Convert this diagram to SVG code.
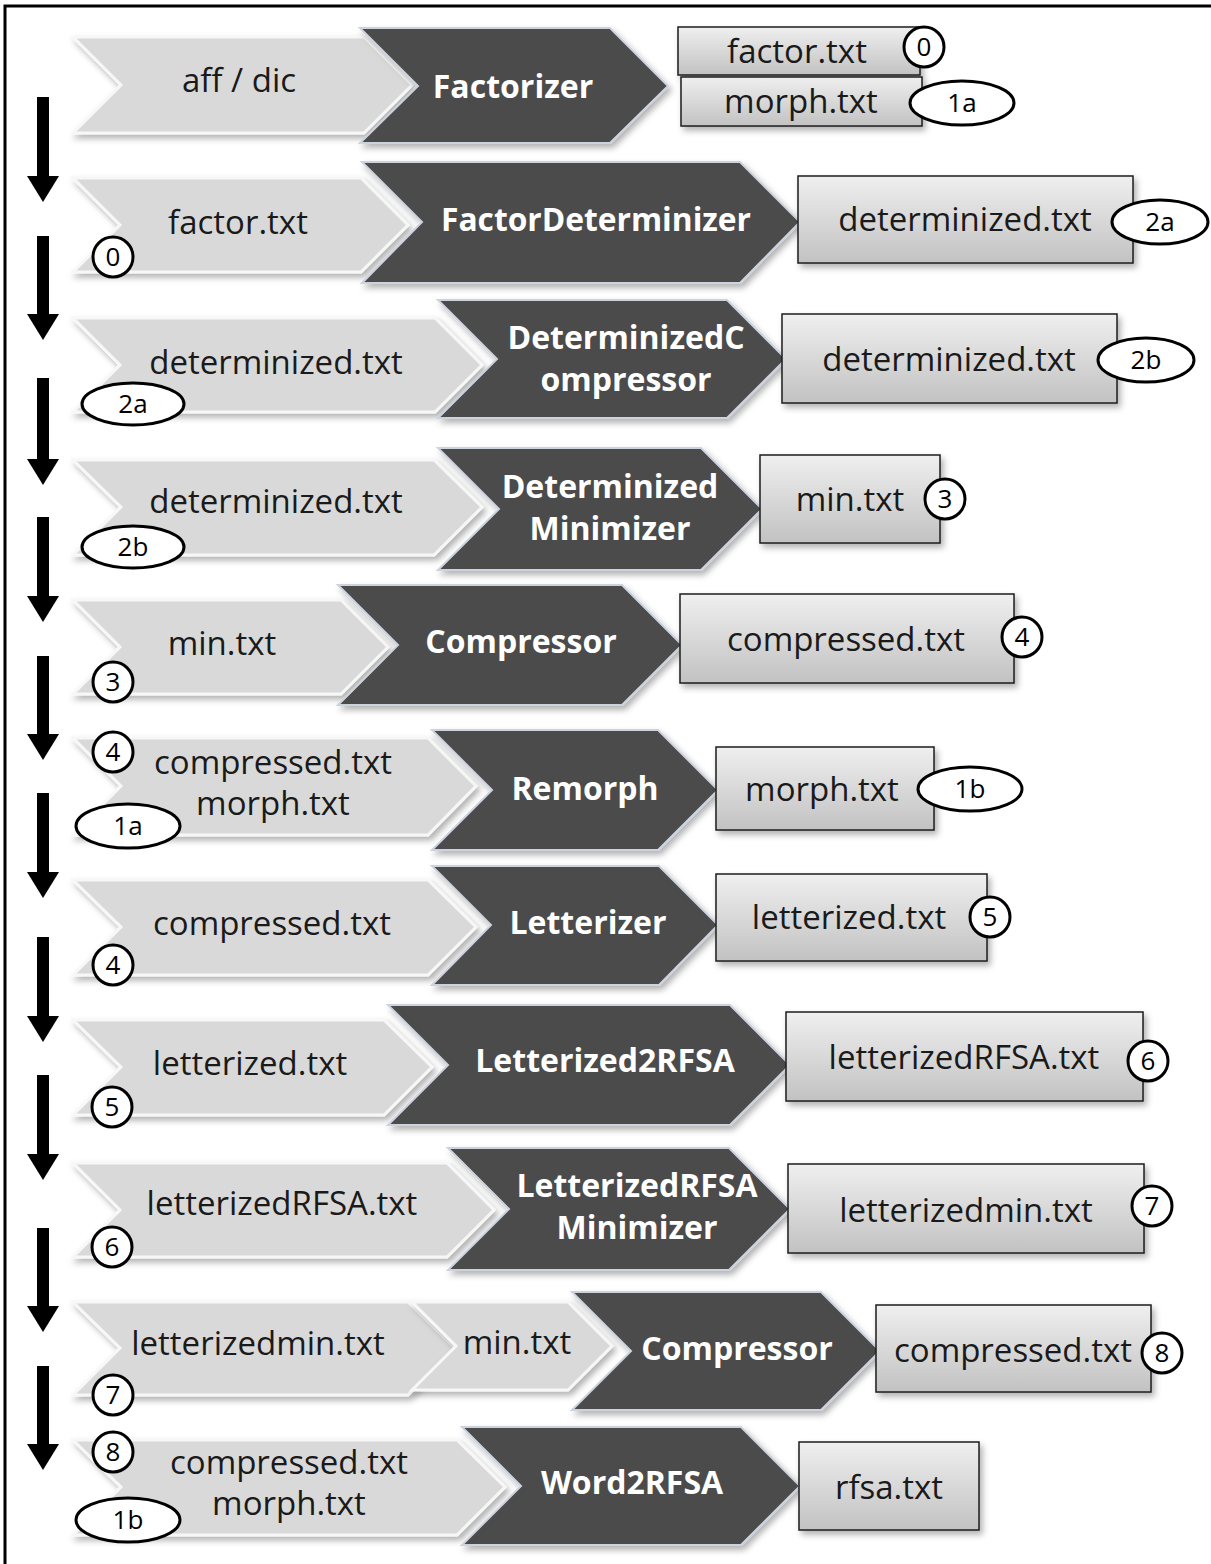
<svg xmlns="http://www.w3.org/2000/svg" width="1211" height="1564" viewBox="0 0 1211 1564">
  <defs>
    <filter id="shadow" x="-10%" y="-20%" width="130%" height="150%">
      <feDropShadow dx="3" dy="4" stdDeviation="3" flood-color="#000" flood-opacity="0.3"/>
    </filter>
    <linearGradient id="boxFill" x1="0" y1="0" x2="0" y2="1">
      <stop offset="0" stop-color="#efefef"/>
      <stop offset="1" stop-color="#c2c2c2"/>
    </linearGradient>
    <marker id="head" viewBox="0 0 26 32" refX="0" refY="16" markerWidth="26" markerHeight="32" markerUnits="userSpaceOnUse" orient="auto">
      <path d="M0,0 L26,16 L0,32 z" fill="#000"/>
    </marker>
  </defs>
  <style>
    .light { fill: #d9d9d9; stroke: #f7f7f7; stroke-width: 3; stroke-linejoin: miter; filter: url(#shadow); }
    .dark { fill: #4b4b4b; stroke: #ccd3de; stroke-width: 2; filter: url(#shadow); }
    .box { fill: url(#boxFill); stroke: #1e1e1e; stroke-width: 1.5; filter: url(#shadow); }
    .tag { fill: #fff; stroke: #000; stroke-width: 3; }
    .t { font-family: "Open Sans", "Liberation Sans", sans-serif; font-size: 33px; fill: #1a1a1a; text-anchor: middle; }
    .b { font-family: "Open Sans", "Liberation Sans", sans-serif; font-size: 32px; font-weight: bold; fill: #fff; text-anchor: middle; }
    .n { font-family: "Open Sans", "Liberation Sans", sans-serif; font-size: 26px; fill: #000; text-anchor: middle; }
    .flow { stroke: #000; stroke-width: 12; fill: none; marker-end: url(#head); }
  </style>

  <rect width="1211" height="1564" fill="#fff"/>
  <!-- frame (right and bottom edges run past the page) -->
  <path d="M5,1564 V6 H1211" fill="none" stroke="#000" stroke-width="3"/>

  <!-- step arrows -->
  <g id="connectors">
    <line class="flow" x1="43" y1="97" x2="43" y2="176"/>
    <line class="flow" x1="43" y1="236" x2="43" y2="314"/>
    <line class="flow" x1="43" y1="378" x2="43" y2="459"/>
    <line class="flow" x1="43" y1="517" x2="43" y2="596"/>
    <line class="flow" x1="43" y1="656" x2="43" y2="734"/>
    <line class="flow" x1="43" y1="793" x2="43" y2="872"/>
    <line class="flow" x1="43" y1="937" x2="43" y2="1016"/>
    <line class="flow" x1="43" y1="1075" x2="43" y2="1154"/>
    <line class="flow" x1="43" y1="1228" x2="43" y2="1306"/>
    <line class="flow" x1="43" y1="1366" x2="43" y2="1444"/>
  </g>

  <!-- row 1 -->
  <g id="in-1">
    <polygon class="light" points="73,37 364,37 412,85 364,133 73,133 121,85"/>
    <text class="t" x="239" y="92">aff / dic</text>
  </g>
  <g id="factorizer">
    <polygon class="dark" points="360,28 610,28 668,86 610,143 360,143 418,86"/>
    <text class="b" x="513" y="98">Factorizer</text>
  </g>
  <g id="out-1">
    <rect class="box" x="678" y="27" width="242" height="48"/>
    <text class="t" x="797" y="63">factor.txt</text>
    <rect class="box" x="681" y="77" width="241" height="49"/>
    <text class="t" x="801" y="113">morph.txt</text>
    <circle class="tag" cx="924" cy="47" r="20"/>
    <text class="n" x="924" y="56">0</text>
    <ellipse class="tag" cx="962" cy="103" rx="52" ry="22"/>
    <text class="n" x="962" y="112">1a</text>
  </g>

  <!-- row 2 -->
  <g id="in-2">
    <polygon class="light" points="73,178 361,178 408,225 361,272 73,272 120,225"/>
    <text class="t" x="238" y="234">factor.txt</text>
    <circle class="tag" cx="113" cy="257" r="20"/>
    <text class="n" x="113" y="266">0</text>
  </g>
  <g id="factor-determinizer">
    <polygon class="dark" points="362,162 740,162 800,222 740,283 362,283 422,222"/>
    <text class="b" x="596" y="231" textLength="310" lengthAdjust="spacingAndGlyphs">FactorDeterminizer</text>
  </g>
  <g id="out-2">
    <rect class="box" x="798" y="176" width="335" height="87"/>
    <text class="t" x="965" y="231">determinized.txt</text>
    <ellipse class="tag" cx="1160" cy="222" rx="48" ry="22"/>
    <text class="n" x="1160" y="231">2a</text>
  </g>

  <!-- row 3 -->
  <g id="in-3">
    <polygon class="light" points="73,318 435,318 482,365 435,412 73,412 120,365"/>
    <text class="t" x="276" y="374">determinized.txt</text>
    <ellipse class="tag" cx="133" cy="404" rx="51" ry="21"/>
    <text class="n" x="133" y="413">2a</text>
  </g>
  <g id="determinized-compressor">
    <polygon class="dark" points="438,300 727,300 786,359 727,418 438,418 497,359"/>
    <text class="b" x="626" y="349">DeterminizedC</text>
    <text class="b" x="626" y="391">ompressor</text>
  </g>
  <g id="out-3">
    <rect class="box" x="782" y="314" width="335" height="89"/>
    <text class="t" x="949" y="371">determinized.txt</text>
    <ellipse class="tag" cx="1146" cy="360" rx="48" ry="22"/>
    <text class="n" x="1146" y="369">2b</text>
  </g>

  <!-- row 4 -->
  <g id="in-4">
    <polygon class="light" points="73,460 434,460 482,507 434,555 73,555 121,507"/>
    <text class="t" x="276" y="513">determinized.txt</text>
    <ellipse class="tag" cx="133" cy="547" rx="51" ry="21"/>
    <text class="n" x="133" y="556">2b</text>
  </g>
  <g id="determinized-minimizer">
    <polygon class="dark" points="438,448 701,448 762,509 701,570 438,570 499,509"/>
    <text class="b" x="610" y="498">Determinized</text>
    <text class="b" x="610" y="540">Minimizer</text>
  </g>
  <g id="out-4">
    <rect class="box" x="760" y="455" width="180" height="88"/>
    <text class="t" x="850" y="511">min.txt</text>
    <circle class="tag" cx="945" cy="499" r="20"/>
    <text class="n" x="945" y="508">3</text>
  </g>

  <!-- row 5 -->
  <g id="in-5">
    <polygon class="light" points="73,600 341,600 388,647 341,694 73,694 120,647"/>
    <text class="t" x="222" y="655">min.txt</text>
    <circle class="tag" cx="113" cy="682" r="20"/>
    <text class="n" x="113" y="691">3</text>
  </g>
  <g id="compressor-1">
    <polygon class="dark" points="338,585 622,585 682,645 622,705 338,705 398,645"/>
    <text class="b" x="521" y="653">Compressor</text>
  </g>
  <g id="out-5">
    <rect class="box" x="680" y="594" width="334" height="89"/>
    <text class="t" x="846" y="651">compressed.txt</text>
    <circle class="tag" cx="1022" cy="637" r="20"/>
    <text class="n" x="1022" y="646">4</text>
  </g>

  <!-- row 6 -->
  <g id="in-6">
    <polygon class="light" points="73,738 428,738 476,786 428,835 73,835 121,786"/>
    <text class="t" x="273" y="774">compressed.txt</text>
    <text class="t" x="273" y="815">morph.txt</text>
    <circle class="tag" cx="113" cy="752" r="20"/>
    <text class="n" x="113" y="761">4</text>
    <ellipse class="tag" cx="128" cy="826" rx="52" ry="22"/>
    <text class="n" x="128" y="835">1a</text>
  </g>
  <g id="remorph">
    <polygon class="dark" points="432,730 658,730 718,790 658,850 432,850 492,790"/>
    <text class="b" x="585" y="800">Remorph</text>
  </g>
  <g id="out-6">
    <rect class="box" x="716" y="747" width="218" height="83"/>
    <text class="t" x="822" y="801">morph.txt</text>
    <ellipse class="tag" cx="970" cy="789" rx="52" ry="22"/>
    <text class="n" x="970" y="798">1b</text>
  </g>

  <!-- row 7 -->
  <g id="in-7">
    <polygon class="light" points="73,880 428,880 476,927 428,975 73,975 121,927"/>
    <text class="t" x="272" y="935">compressed.txt</text>
    <circle class="tag" cx="113" cy="965" r="20"/>
    <text class="n" x="113" y="974">4</text>
  </g>
  <g id="letterizer">
    <polygon class="dark" points="432,866 659,866 718,925 659,985 432,985 491,925"/>
    <text class="b" x="588" y="934">Letterizer</text>
  </g>
  <g id="out-7">
    <rect class="box" x="716" y="874" width="271" height="87"/>
    <text class="t" x="849" y="929">letterized.txt</text>
    <circle class="tag" cx="990" cy="917" r="20"/>
    <text class="n" x="990" y="926">5</text>
  </g>

  <!-- row 8 -->
  <g id="in-8">
    <polygon class="light" points="73,1020 384,1020 432,1067 384,1115 73,1115 121,1067"/>
    <text class="t" x="250" y="1075">letterized.txt</text>
    <circle class="tag" cx="112" cy="1107" r="20"/>
    <text class="n" x="112" y="1116">5</text>
  </g>
  <g id="letterized2rfsa">
    <polygon class="dark" points="388,1005 730,1005 790,1065 730,1125 388,1125 448,1065"/>
    <text class="b" x="605" y="1072">Letterized2RFSA</text>
  </g>
  <g id="out-8">
    <rect class="box" x="786" y="1012" width="357" height="89"/>
    <text class="t" x="964" y="1069">letterizedRFSA.txt</text>
    <circle class="tag" cx="1148" cy="1061" r="20"/>
    <text class="n" x="1148" y="1070">6</text>
  </g>

  <!-- row 9 -->
  <g id="in-9">
    <polygon class="light" points="73,1163 447,1163 494,1210 447,1257 73,1257 120,1210"/>
    <text class="t" x="282" y="1215">letterizedRFSA.txt</text>
    <circle class="tag" cx="112" cy="1247" r="20"/>
    <text class="n" x="112" y="1256">6</text>
  </g>
  <g id="letterizedrfsa-minimizer">
    <polygon class="dark" points="448,1148 729,1148 790,1209 729,1270 448,1270 509,1209"/>
    <text class="b" x="637" y="1197">LetterizedRFSA</text>
    <text class="b" x="637" y="1239">Minimizer</text>
  </g>
  <g id="out-9">
    <rect class="box" x="788" y="1164" width="356" height="89"/>
    <text class="t" x="966" y="1222">letterizedmin.txt</text>
    <circle class="tag" cx="1152" cy="1206" r="20"/>
    <text class="n" x="1152" y="1215">7</text>
  </g>

  <!-- row 10 -->
  <g id="in-10">
    <polygon class="light" points="73,1302 408,1302 455,1348 408,1395 73,1395 120,1348"/>
    <text class="t" x="258" y="1355">letterizedmin.txt</text>
    <circle class="tag" cx="113" cy="1395" r="20"/>
    <text class="n" x="113" y="1404">7</text>
  </g>
  <g id="in-10b">
    <polygon class="light" points="412,1302 568,1302 612,1346 568,1390 412,1390 456,1346"/>
    <text class="t" x="517" y="1354">min.txt</text>
  </g>
  <g id="compressor-2">
    <polygon class="dark" points="572,1292 821,1292 880,1351 821,1410 572,1410 631,1351"/>
    <text class="b" x="737" y="1360">Compressor</text>
  </g>
  <g id="out-10">
    <rect class="box" x="876" y="1305" width="275" height="87"/>
    <text class="t" x="1013" y="1362">compressed.txt</text>
    <circle class="tag" cx="1162" cy="1353" r="20"/>
    <text class="n" x="1162" y="1362">8</text>
  </g>

  <!-- row 11 -->
  <g id="in-11">
    <polygon class="light" points="73,1440 457,1440 505,1487 457,1535 73,1535 121,1487"/>
    <text class="t" x="289" y="1474">compressed.txt</text>
    <text class="t" x="289" y="1515">morph.txt</text>
    <circle class="tag" cx="113" cy="1452" r="20"/>
    <text class="n" x="113" y="1461">8</text>
    <ellipse class="tag" cx="128" cy="1520" rx="52" ry="22"/>
    <text class="n" x="128" y="1529">1b</text>
  </g>
  <g id="word2rfsa">
    <polygon class="dark" points="462,1427 741,1427 800,1486 741,1545 462,1545 521,1486"/>
    <text class="b" x="632" y="1494">Word2RFSA</text>
  </g>
  <g id="out-11">
    <rect class="box" x="799" y="1442" width="180" height="88"/>
    <text class="t" x="889" y="1499">rfsa.txt</text>
  </g>
</svg>
